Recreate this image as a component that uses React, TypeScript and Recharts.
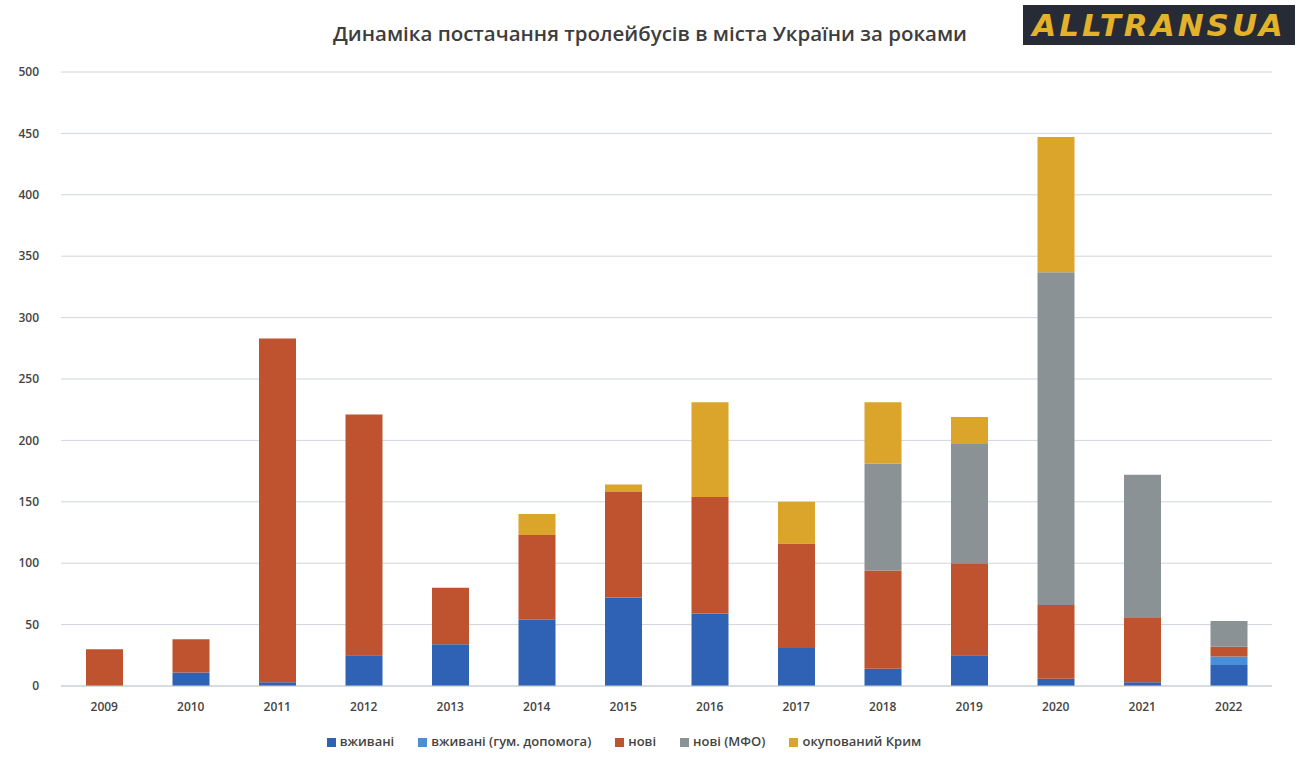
import { BarChart, Bar, XAxis, YAxis, CartesianGrid, Legend } from 'recharts'

const YEARS = ['2009', '2010', '2011', '2012', '2013', '2014', '2015', '2016', '2017', '2018', '2019', '2020', '2021', '2022']
const USED = [0, 11, 3, 25, 34, 54, 72, 59, 31, 14, 25, 6, 3, 17]
const USED_AID = [0, 0, 0, 0, 0, 0, 0, 0, 0, 0, 0, 0, 0, 7]
const NEW = [30, 27, 280, 196, 46, 69, 86, 95, 85, 80, 75, 60, 53, 8]
const NEW_IFI = [0, 0, 0, 0, 0, 0, 0, 0, 0, 87, 97, 271, 116, 21]
const CRIMEA = [0, 0, 0, 0, 0, 17, 6, 77, 34, 50, 22, 110, 0, 0]
const Y_TICKS = [0, 50, 100, 150, 200, 250, 300, 350, 400, 450, 500]

const SERIES = [
  { key: 'used', name: 'вживані', color: '#2f62b5' },
  { key: 'usedAid', name: 'вживані (гум. допомога)', color: '#4a8ed6' },
  { key: 'fresh', name: 'нові', color: '#c0532f' },
  { key: 'freshIfi', name: 'нові (МФО)', color: '#8b9295' },
  { key: 'crimea', name: 'окупований Крим', color: '#dba42a' },
]

const data = YEARS.map((year, i) => ({
  year,
  used: USED[i],
  usedAid: USED_AID[i],
  fresh: NEW[i],
  freshIfi: NEW_IFI[i],
  crimea: CRIMEA[i],
}))

const FONT = '"Open Sans", "DejaVu Sans", sans-serif'
const tick = { fill: '#444', fontSize: 12, fontWeight: 600, fontFamily: FONT }

export default function App() {
  return (
    <div style={{ position: 'fixed', left: 0, top: 0, width: 1300, height: 762, background: '#fff', fontFamily: FONT }}>
      <div style={{ position: 'absolute', left: 0, width: 1300, top: 19, textAlign: 'center', fontSize: 20.5, fontWeight: 600, color: '#3d3d3d' }}>
        Динаміка постачання тролейбусів в міста України за роками
      </div>
      <div
        style={{
          position: 'absolute', left: 1023, top: 5, width: 272, height: 40, background: '#262b36',
          color: '#e3b12a', fontSize: 31, fontWeight: 900, fontStyle: 'italic', letterSpacing: 3,
          display: 'flex', alignItems: 'center', justifyContent: 'center', fontFamily: '"DejaVu Sans", sans-serif',
        }}
      >
        ALLTRANSUA
      </div>
      <BarChart
        width={1300}
        height={762}
        data={data}
        margin={{ top: 72, right: 28, left: 0, bottom: 26 }}
        barSize={37}
      >
        <CartesianGrid vertical={false} stroke="#cfd6dc" />
        <XAxis dataKey="year" tick={tick} tickLine={false} axisLine={{ stroke: '#c8cdd2' }} height={30} tickMargin={10} />
        <YAxis
          ticks={Y_TICKS}
          domain={[0, 500]}
          tick={tick}
          tickLine={false}
          axisLine={false}
          width={61}
          tickMargin={16}
        />
        <Legend
          height={20}
          iconType="square"
          iconSize={9}
          wrapperStyle={{ bottom: 10, fontSize: 13, fontWeight: 600, fontFamily: FONT }}
          formatter={(value) => <span style={{ color: '#444', marginRight: 14 }}>{value}</span>}
        />
        {SERIES.map((s) => (
          <Bar key={s.key} dataKey={s.key} name={s.name} stackId="a" fill={s.color} isAnimationActive={false} />
        ))}
      </BarChart>
    </div>
  )
}
